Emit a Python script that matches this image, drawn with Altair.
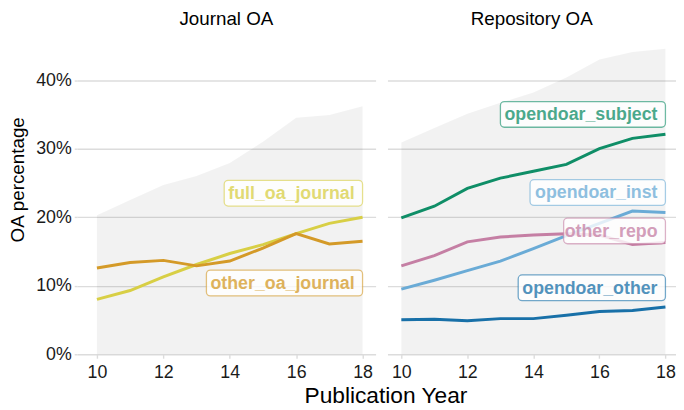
import altair as alt
import pandas as pd

# ---------------- data (percent values) ----------------
years = [10, 11, 12, 13, 14, 15, 16, 17, 18]

journal_total = [20.3, 22.5, 24.7, 26.0, 27.9, 31.0, 34.5, 34.9, 36.2]
full_oa_journal = [8.0, 9.3, 11.3, 13.1, 14.7, 16.0, 17.6, 19.1, 20.0]
other_oa_journal = [12.6, 13.4, 13.7, 12.9, 13.6, 15.5, 17.6, 16.1, 16.5]

repo_total = [30.9, 33.0, 35.1, 36.7, 38.2, 40.4, 43.0, 44.1, 44.6]
opendoar_subject = [19.9, 21.6, 24.2, 25.7, 26.7, 27.7, 30.0, 31.5, 32.1]
opendoar_inst = [9.5, 10.8, 12.2, 13.6, 15.4, 17.3, 19.1, 20.9, 20.7]
other_repo = [12.9, 14.4, 16.4, 17.1, 17.4, 17.6, 17.4, 16.0, 16.3]
opendoar_other = [5.05, 5.1, 4.9, 5.2, 5.2, 5.7, 6.25, 6.4, 6.9]

y_ticks = [0, 10, 20, 30, 40]
x_ticks = [10, 12, 14, 16, 18]

# ---------------- styles ----------------
FONT = "Liberation Sans"
GRID = "#dcdcdc"

journal_names = ["full_oa_journal", "other_oa_journal"]
journal_colors = ["#d8cf45", "#d49a28"]
journal_label_y = [23.5, 10.4]
journal_label_w = [140, 158]

repo_names = ["opendoar_subject", "opendoar_inst", "other_repo", "opendoar_other"]
repo_colors = ["#0f8e67", "#6aabd6", "#c57fa4", "#1870a8"]
repo_label_y = [35.0, 23.6, 18.0, 9.7]
repo_label_w = [167, 137, 103, 149]


def panel(title, total, names, series, colors, label_y, label_w, xdomain, width, show_y):
    xsc = alt.Scale(domain=xdomain, nice=False, zero=False)
    ysc = alt.Scale(domain=[0, 46], nice=False)

    xax = alt.Axis(values=x_ticks, title=None, grid=False, domain=False,
                   tickColor=GRID, tickSize=4, tickWidth=1.4,
                   labelFontSize=18, labelFont=FONT, labelColor="#1a1a1a", labelPadding=6)
    if show_y:
        yax = alt.Axis(values=y_ticks, title="OA percentage", domain=False,
                       labelExpr="datum.value + '%'",
                       tickColor=GRID, tickSize=3, tickWidth=1.4,
                       labelFontSize=18, labelFont=FONT, labelColor="#1a1a1a", labelPadding=3,
                       titleFontSize=19, titleFont=FONT, titleFontWeight="normal",
                       titleColor="black", titlePadding=8, titleY=142)
    else:
        yax = alt.Axis(values=y_ticks, title=None, domain=False, labels=False, ticks=False)

    area_df = pd.DataFrame({"year": years, "value": total})
    area = alt.Chart(area_df).mark_area(color="#000000", opacity=0.05).encode(
        x=alt.X("year:Q", scale=xsc, axis=xax),
        y=alt.Y("value:Q", scale=ysc, axis=yax),
    )
    layers = [area]
    for name, vals, col in zip(names, series, colors):
        sdf = pd.DataFrame({"year": years, "value": vals})
        layers.append(alt.Chart(sdf).mark_line(strokeWidth=3, color=col).encode(
            x=alt.X("year:Q", scale=xsc),
            y=alt.Y("value:Q", scale=ysc),
        ))
    for name, col, ly, w in zip(names, colors, label_y, label_w):
        ldf = pd.DataFrame({"year": [years[-1]], "value": [ly], "label": [name]})
        box = alt.Chart(ldf).mark_rect(
            xOffset=-w, x2Offset=0, yOffset=-13, y2Offset=13, cornerRadius=4,
            fill="white", fillOpacity=0.8, stroke=col, strokeOpacity=0.6, strokeWidth=1.3,
        ).encode(
            x=alt.X("year:Q", scale=xsc), x2="year:Q",
            y=alt.Y("value:Q", scale=ysc), y2="value:Q",
        )
        txt = alt.Chart(ldf).mark_text(
            align="right", baseline="middle", dx=-8, dy=1, font=FONT, fontWeight="bold",
            fontSize=18, color=col, opacity=0.75,
        ).encode(
            x=alt.X("year:Q", scale=xsc),
            y=alt.Y("value:Q", scale=ysc),
            text="label:N",
        )
        layers += [box, txt]

    return alt.layer(*layers).properties(
        width=width, height=319,
        title=alt.TitleParams(title, fontSize=19, font=FONT, fontWeight="normal",
                              color="black", offset=10, anchor="middle"),
    )


left = panel("Journal OA", journal_total, journal_names,
             [full_oa_journal, other_oa_journal], journal_colors,
             journal_label_y, journal_label_w, [9.405, 18.393], 302, True)
right = panel("Repository OA", repo_total, repo_names,
              [opendoar_subject, opendoar_inst, other_repo, opendoar_other], repo_colors,
              repo_label_y, repo_label_w, [9.58, 18.32], 292, False)

chart = alt.hconcat(left, right, spacing=12).properties(
    padding={"left": 0, "top": 0, "right": 0, "bottom": 0},
    title=alt.TitleParams("Publication Year", orient="bottom", anchor="middle",
                          fontSize=23, font=FONT, fontWeight="normal", color="black",
                          offset=3, dx=44),
).configure_view(stroke=None).configure_axis(gridColor=GRID, gridWidth=1.4)

chart.save("out.html", embed_options={"renderer": "svg", "actions": False})
